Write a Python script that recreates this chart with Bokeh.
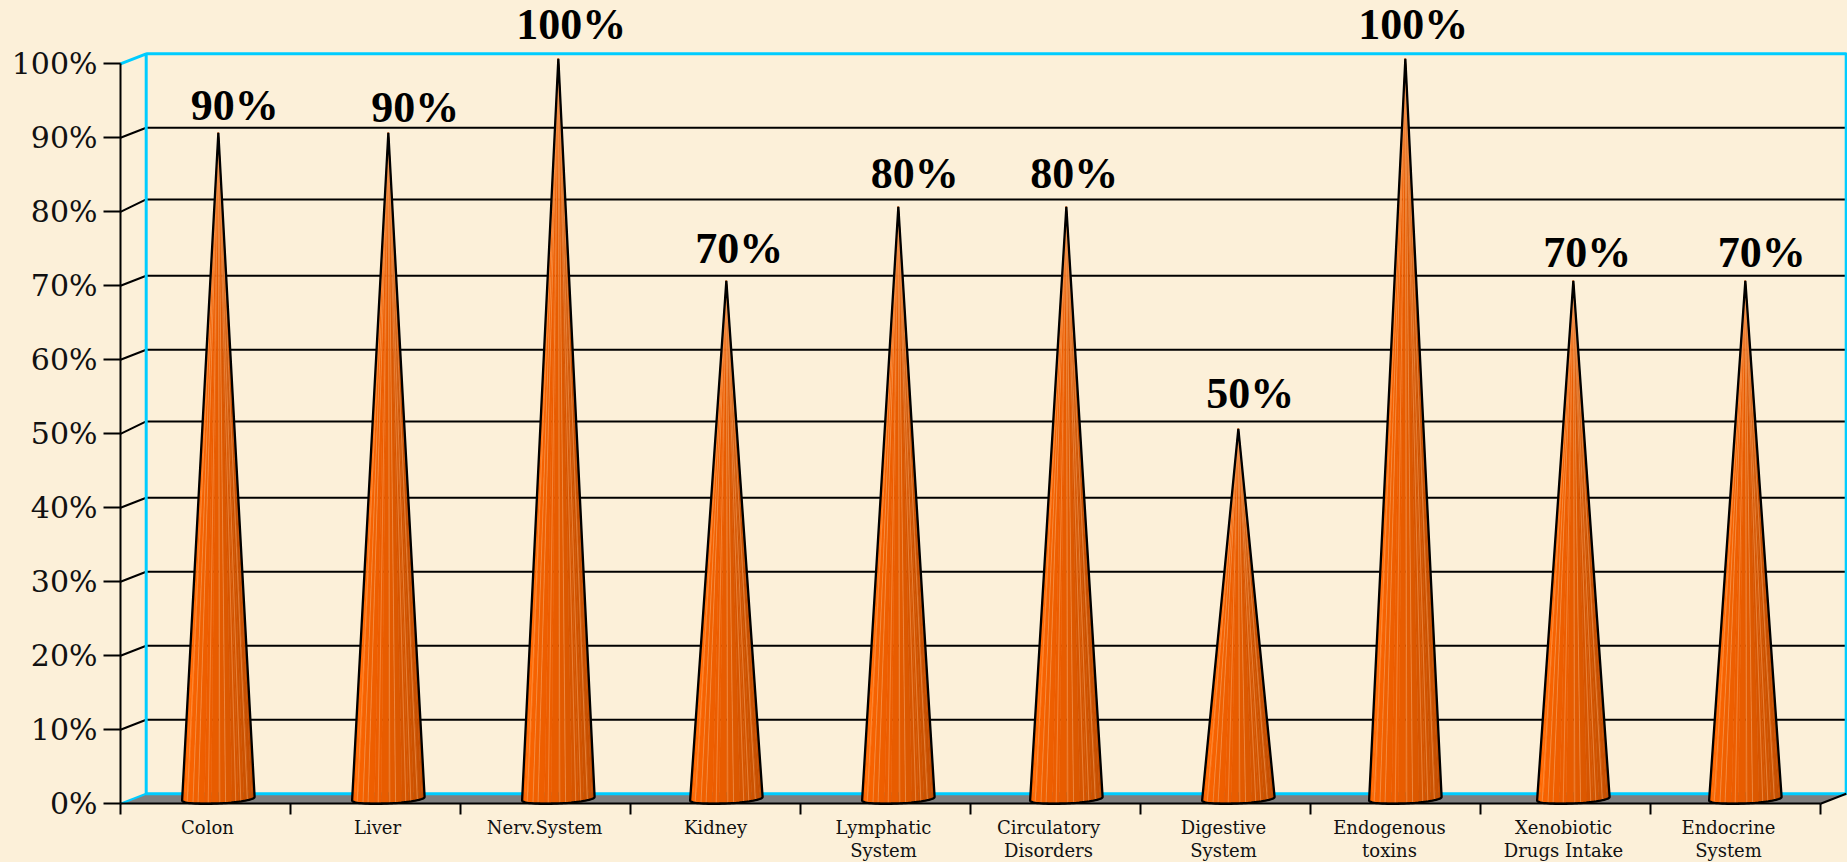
from bokeh.embed import file_html
from bokeh.resources import INLINE
from bokeh.core.properties import value
from bokeh.models import (ColumnDataSource, FixedTicker, GlobalInlineStyleSheet, LinearAxis,
                          PrintfTickFormatter, Range1d)
from bokeh.plotting import figure
import numpy as np

# ---- data ----
categories = ["Colon", "Liver", "Nerv.System", "Kidney", "Lymphatic\nSystem",
              "Circulatory\nDisorders", "Digestive\nSystem", "Endogenous\ntoxins",
              "Xenobiotic\nDrugs Intake", "Endocrine\nSystem"]
values = [90, 90, 100, 70, 80, 80, 50, 100, 70, 70]
y_ticks = [0, 10, 20, 30, 40, 50, 60, 70, 80, 90, 100]
band_colors = ["#F66000", "#FF6600", "#FF6A05", "#F76200", "#F06000", "#EE5E00", "#EC5D00",
               "#E85C00", "#E25A00", "#DC5800", "#D65500", "#D25400", "#CC5200", "#C95000",
               "#C44E00", "#C04C00"]

# ---- layout (pixels of the page) ----
W, H = 1847, 862
X0, XSTEP = 120.0, 170.0
Y0, YSTEP = 803.3, 7.4
DX_PX, DY_PX = 25.7, 10.0
BG = "#FCF0D9"
CYAN = "#00CCFF"
CONE_NUDGE_PX = [0, 0, 0, -2, 0, -2, 0, -3, -5, -3]
VALUE_LABEL_DX_PX = [16.5, 27, 13, 13, 16.5, 8, 12, 8, 14, 16.5]
VALUE_LABEL_DY_PX = [-27, -25, -34, -32, -33, -33, -35, -34, -28, -28]
AXIS_LABEL_NUDGE_PX = [2, 2, -1, 0, -2, -7, -2, -6, -2, -7]
STRIPE_FRACTIONS = [0.07, 0.15, 0.22, 0.36, 0.52, 0.60, 0.74, 0.81, 0.90]
GRID_NUDGE_PX = {50: 2.4, 80: 2.4}

dx = DX_PX / XSTEP          # depth offset in data units
dy = DY_PX / YSTEP
n = len(categories)

p = figure(width=W, height=H, output_backend="svg", toolbar_location=None,
           x_range=Range1d(-X0 / XSTEP, (W - X0) / XSTEP),
           y_range=Range1d((Y0 - H) / YSTEP, Y0 / YSTEP),
           min_border=0, min_border_left=0, min_border_right=0, min_border_top=0, min_border_bottom=0,
           x_axis_type=None, y_axis_type=None, background_fill_color=BG, border_fill_color=BG,
           outline_line_color=None)
p.grid.visible = False
p.stylesheets = [GlobalInlineStyleSheet(css=f"html,body{{margin:0;padding:0;background:{BG};overflow:hidden}}")]

# floor
p.patch([0, dx, n + dx, n], [0, dy, dy, 0], fill_color="#808080", line_color=None)

# back-wall grid lines and their connectors to the axis
for t in y_ticks[1:-1]:
    g = t + dy + GRID_NUDGE_PX.get(t, 0) / YSTEP
    p.line([0, dx, n + dx], [t, g, g], line_color="black", line_width=2)

# back wall & cyan edges
p.line([0, dx, dx, n + dx, n + dx, dx], [100, 100 + dy, dy, dy, 100 + dy, 100 + dy],
       line_color=CYAN, line_width=3)
p.line([0, dx], [0, dy], line_color=CYAN, line_width=2)
p.line([n, n + dx], [0, dy], line_color="black", line_width=2)

# cones
R = 33.9 / XSTEP
apex_x = [i + 0.5 + dx / 2 + CONE_NUDGE_PX[i] / XSTEP for i in range(n)]
for xc, v in zip(apex_x, values):
    yc = dy / 2
    t0 = np.pi + np.arctan2(dx / 2, R)
    edges = np.linspace(t0, t0 + np.pi, len(band_colors) + 1)
    xs, ys = [], []
    for a, b in zip(edges[:-1], edges[1:]):
        tt = np.linspace(a, b, 5)
        xs.append([xc] + list(xc + R * np.cos(tt) + dx / 2 * np.sin(tt)))
        ys.append([v + yc] + list(yc + dy / 2 * np.sin(tt)))
    p.patches(xs, ys, fill_color=band_colors, line_color=band_colors, line_width=0.5)
    for f in STRIPE_FRACTIONS:
        tt = t0 + np.arccos(1 - 2 * f)
        p.line([xc, xc + R * np.cos(tt) + dx / 2 * np.sin(tt)],
               [v + yc, yc + dy / 2 * np.sin(tt)],
               line_color="#F9A868", line_width=1, line_alpha=0.55)
    tt = np.linspace(t0, t0 + np.pi, 40)
    ox = [xc] + list(xc + R * np.cos(tt) + dx / 2 * np.sin(tt)) + [xc]
    oy = [v + yc] + list(yc + dy / 2 * np.sin(tt)) + [v + yc]
    p.line(ox, oy, line_color="black", line_width=2.3)

# value labels
src = ColumnDataSource(dict(x=apex_x, y=[v + dy / 2 for v in values],
                            t=[f"{v}%" for v in values],
                            ox=VALUE_LABEL_DX_PX, oy=VALUE_LABEL_DY_PX))
p.text("x", "y", text="t", source=src, text_font=value("Liberation Serif"), text_font_style="bold",
       text_font_size="44px", text_color="black", text_align="center", text_baseline="alphabetic",
       x_offset="ox", y_offset="oy")

# y axis
ya = LinearAxis(fixed_location=0, bounds=(0, 100), ticker=FixedTicker(ticks=y_ticks),
                formatter=PrintfTickFormatter(format="%d%%"))
ya.axis_line_color = "black"; ya.axis_line_width = 2
ya.major_tick_line_color = "black"; ya.major_tick_line_width = 2
ya.major_tick_out = 17; ya.major_tick_in = 0; ya.minor_tick_out = 0; ya.minor_tick_in = 0
ya.major_label_text_font = "DejaVu Serif"; ya.major_label_text_font_size = "30px"
ya.major_label_text_color = "#111111"; ya.major_label_standoff = 6
p.add_layout(ya, "left")

# x axis: boundary ticks
xa = LinearAxis(fixed_location=0, bounds=(0, n), ticker=FixedTicker(ticks=list(range(n + 1))))
xa.axis_line_color = "black"; xa.axis_line_width = 2
xa.major_tick_line_color = "black"; xa.major_tick_line_width = 2
xa.major_tick_out = 11; xa.major_tick_in = 0; xa.minor_tick_out = 0; xa.minor_tick_in = 0
xa.major_label_text_font_size = "0px"; xa.major_label_text_color = None
p.add_layout(xa, "below")

# x axis: category labels in the middle of each slot, one axis per text line
centres = [i + 0.5 + AXIS_LABEL_NUDGE_PX[i] / XSTEP for i in range(n)]
line1 = {c: s.split("\n")[0] for c, s in zip(centres, categories)}
line2 = {c: s.split("\n")[1] for c, s in zip(centres, categories) if "\n" in s}


def label_axis(labels, standoff):
    ax = LinearAxis(fixed_location=0, bounds=(0, n), ticker=FixedTicker(ticks=list(labels)),
                    major_label_overrides=labels)
    ax.axis_line_color = None; ax.major_tick_line_color = None; ax.minor_tick_line_color = None
    ax.major_tick_out = 0; ax.major_tick_in = 0
    ax.major_label_text_font = "DejaVu Serif"; ax.major_label_text_font_size = "18px"
    ax.major_label_text_color = "#111111"; ax.major_label_standoff = standoff
    p.add_layout(ax, "below")


label_axis(line1, 13)
label_axis(line2, 36)

open("out.html", "w").write(file_html(p, INLINE))
